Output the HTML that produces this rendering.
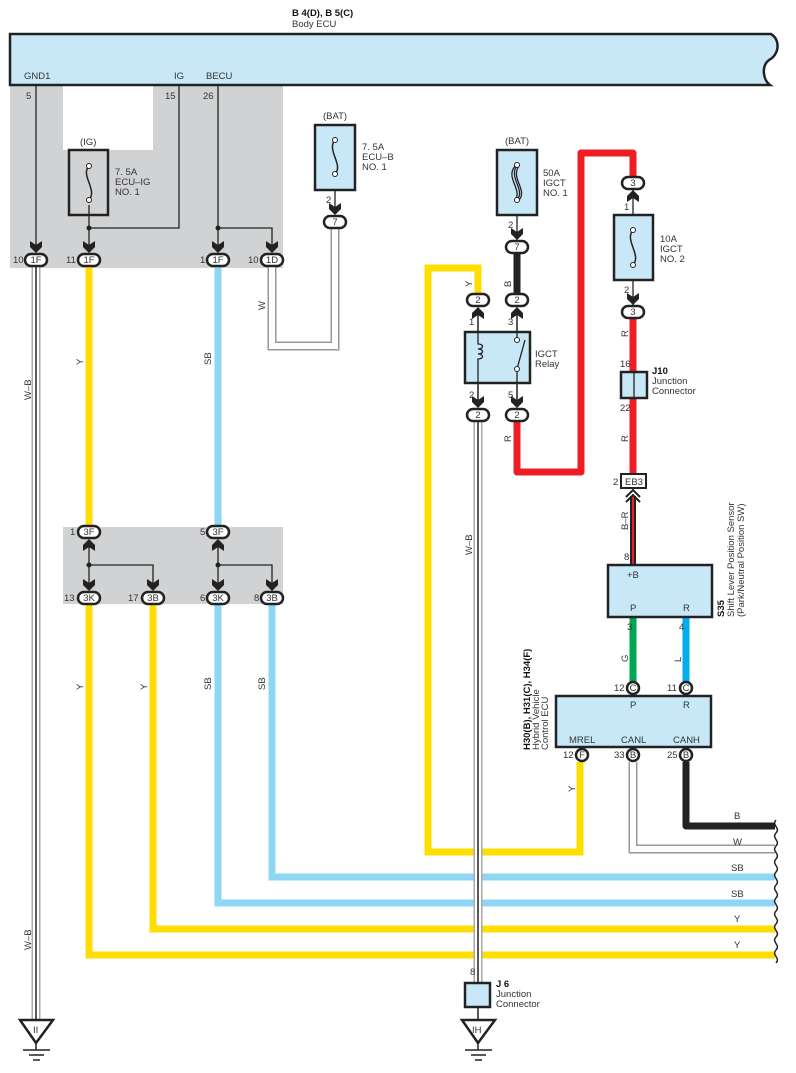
<!DOCTYPE html>
<html><head><meta charset="utf-8"><style>
html,body{margin:0;padding:0;background:#fff;}
svg{display:block;font-family:"Liberation Sans",sans-serif;}
text{font-size:9.5px;fill:#333;}
.b{font-weight:bold;fill:#111;}
</style></head><body>
<svg width="796" height="1073" viewBox="0 0 796 1073" xmlns="http://www.w3.org/2000/svg">
<defs>
<g id="ad"><polygon points="-6,-9 0,-5 6,-9 6,-3 0,3 -6,-3" fill="#222"/></g>
<g id="au"><polygon points="-6,9 0,5 6,9 6,3 0,-3 -6,3" fill="#222"/></g>
</defs>
<!-- gray regions -->
<path d="M10 85 H283 V268 H10 Z" fill="#d1d2d4"/>
<rect x="63" y="85" width="90" height="65" fill="#fff"/>
<rect x="63" y="527" width="220" height="77" fill="#d1d2d4"/>

<!-- Body ECU -->
<text x="292" y="16" class="b">B 4(D), B 5(C)</text>
<text x="292" y="27">Body ECU</text>
<path d="M10 34 H771 C781 40,779 55,769 60 C761 66,763 80,770 85 H10 Z" fill="#c8e8f8" stroke="#222" stroke-width="2.5"/>
<text x="24" y="79">GND1</text><text x="174" y="79">IG</text><text x="206" y="79">BECU</text>
<text x="26" y="99">5</text><text x="165" y="99">15</text><text x="203" y="99">26</text>

<!-- thin internal wires -->
<g stroke="#222" stroke-width="1.3" fill="none">
<path d="M36 85 V250"/>
<path d="M179 85 V228 H89"/>
<path d="M89 205 V250"/>
<path d="M218 85 V250"/><path d="M218 228 H272 V250"/>
<path d="M335 178 V212"/>
<path d="M89 565 V545"/><path d="M89 565 V590"/><path d="M89 565 H153 V590"/>
<path d="M218 565 V545"/><path d="M218 565 V590"/><path d="M218 565 H272 V590"/>
<path d="M478 312 V403"/><path d="M517 312 V403"/>
<path d="M517 215 V240"/>
<path d="M633 190 V305"/>
</g>
<circle cx="89" cy="228" r="2.5" fill="#222"/><circle cx="218" cy="228" r="2.5" fill="#222"/>
<circle cx="89" cy="565" r="2.5" fill="#222"/><circle cx="218" cy="565" r="2.5" fill="#222"/>

<!-- IG fuse -->
<text x="80" y="145">(IG)</text>
<rect x="69" y="150" width="39" height="65" fill="none" stroke="#222" stroke-width="2.5"/>
<path d="M89 166 C80 175,98 190,89 200" fill="none" stroke="#222" stroke-width="1.5"/>
<circle cx="89" cy="166" r="2.5" fill="#fff" stroke="#222"/><circle cx="89" cy="200" r="2.5" fill="#fff" stroke="#222"/>
<text x="115" y="175">7. 5A</text><text x="115" y="185">ECU–IG</text><text x="115" y="195">NO. 1</text>

<!-- ECU-B fuse -->
<text x="323" y="119">(BAT)</text>
<rect x="315" y="125" width="40" height="65" fill="#c8e8f8" stroke="#222" stroke-width="2.5"/>
<path d="M335 140 C326 150,344 165,335 174" fill="none" stroke="#222" stroke-width="1.5"/>
<circle cx="335" cy="140" r="2.5" fill="#fff" stroke="#222"/><circle cx="335" cy="174" r="2.5" fill="#fff" stroke="#222"/>
<text x="362" y="150">7. 5A</text><text x="362" y="160">ECU–B</text><text x="362" y="170">NO. 1</text>
<text x="326" y="203">2</text>

<!-- W wire -->
<path d="M272 266 V346 H335 V228" fill="none" stroke="#999" stroke-width="9"/>
<path d="M272 266 V346 H335 V228" fill="none" stroke="#fff" stroke-width="6"/>
<text transform="translate(265,310) rotate(-90)">W</text>

<!-- W-B left -->
<path d="M36 266 V1022" stroke="#aaa" stroke-width="9" fill="none"/>
<path d="M36 266 V1022" stroke="#fff" stroke-width="6" fill="none"/>
<path d="M36 266 V1022" stroke="#222" stroke-width="1.5" fill="none"/>
<text transform="translate(31,400) rotate(-90)">W–B</text>
<text transform="translate(31,950) rotate(-90)">W–B</text>

<!-- Y/SB verticals -->
<g fill="none" stroke-width="7">
<path d="M89 266 V527" stroke="#ffdd00"/>
<path d="M218 266 V527" stroke="#8fd6f5"/>
<path d="M89 604 V955 H775" stroke="#ffdd00"/>
<path d="M153 604 V929 H775" stroke="#ffdd00"/>
<path d="M218 604 V903 H775" stroke="#8fd6f5"/>
<path d="M272 604 V877 H775" stroke="#8fd6f5"/>
<path d="M478 293 V268 H428 V852 H580 V762" stroke="#ffdd00"/>
<path d="M517 422 V472 H581 V153 H633 V176" stroke="#ee1c25" stroke-linejoin="round"/>
<path d="M633 318 V474" stroke="#ee1c25"/>
<path d="M517 253 V294" stroke="#222"/>
<path d="M633 617 V682" stroke="#00a651"/>
<path d="M686 617 V682" stroke="#00aeef"/>
<path d="M686 762 V826 H775" stroke="#222" stroke-linejoin="round"/>
</g>
<text transform="translate(83,365) rotate(-90)">Y</text>
<text transform="translate(211,365) rotate(-90)">SB</text>
<text transform="translate(83,690) rotate(-90)">Y</text>
<text transform="translate(147,690) rotate(-90)">Y</text>
<text transform="translate(211,690) rotate(-90)">SB</text>
<text transform="translate(265,690) rotate(-90)">SB</text>
<text transform="translate(472,287) rotate(-90)">Y</text>
<text transform="translate(511,287) rotate(-90)">B</text>
<text transform="translate(511,442) rotate(-90)">R</text>
<text transform="translate(628,337) rotate(-90)">R</text>
<text transform="translate(628,442) rotate(-90)">R</text>
<text transform="translate(575,792) rotate(-90)">Y</text>
<text transform="translate(628,662) rotate(-90)">G</text>
<text transform="translate(681,662) rotate(-90)">L</text>

<!-- CANL W wire -->
<path d="M633 762 V849 H775" fill="none" stroke="#999" stroke-width="9"/>
<path d="M633 762 V849 H775" fill="none" stroke="#fff" stroke-width="6"/>

<!-- right labels -->
<text x="734" y="819">B</text><text x="733" y="845">W</text><text x="731" y="871">SB</text>
<text x="731" y="897">SB</text><text x="734" y="922">Y</text><text x="734" y="948">Y</text>
<path d="M776 820 c-5 5,5 8,0 13 c-5 5,5 8,0 13 c-5 5,5 8,0 13 c-5 5,5 8,0 13 c-5 5,5 8,0 13 c-5 5,5 8,0 13 c-5 5,5 8,0 13 c-5 5,5 8,0 13 c-5 5,5 8,0 13 c-5 5,5 8,0 13 c-5 5,5 8,0 13" fill="none" stroke="#222" stroke-width="1.5"/>

<!-- relay W-B wire -->
<path d="M478 422 V985" stroke="#aaa" stroke-width="9" fill="none"/>
<path d="M478 422 V985" stroke="#fff" stroke-width="6" fill="none"/>
<path d="M478 422 V1020" stroke="#222" stroke-width="1.5" fill="none"/>
<text transform="translate(472,555) rotate(-90)">W–B</text>

<!-- 50A fuse -->
<text x="505" y="144">(BAT)</text>
<rect x="497" y="150" width="40" height="65" fill="#c8e8f8" stroke="#222" stroke-width="2.5"/>
<path d="M517 165 C508 178,526 190,517 200 M515 166 C505 178,523 190,515 200 M519 166 C510 178,528 190,519 200" fill="none" stroke="#222" stroke-width="1.3"/>
<circle cx="517" cy="165" r="2.5" fill="#fff" stroke="#222"/><circle cx="517" cy="200" r="2.5" fill="#fff" stroke="#222"/>
<text x="543" y="176">50A</text><text x="543" y="186">IGCT</text><text x="543" y="196">NO. 1</text>
<text x="508" y="228">2</text>

<!-- relay -->
<rect x="465" y="332" width="65" height="51" fill="#c8e8f8" stroke="#222" stroke-width="2.5"/>
<path d="M478 312 V344 c6 0,6 5,0 5 c6 0,6 5,0 5 c6 0,6 5,0 5 V403" fill="none" stroke="#222" stroke-width="1.3"/>
<path d="M517 312 V338 M517 369 L525 340 M517 369 V403" fill="none" stroke="#222" stroke-width="1.3"/>
<rect x="515" y="335" width="0" height="0"/>
<circle cx="517" cy="340" r="2.5" fill="#fff" stroke="#222"/><circle cx="517" cy="369" r="2.5" fill="#fff" stroke="#222"/>
<text x="535" y="357">IGCT</text><text x="535" y="367">Relay</text>
<text x="469" y="325">1</text><text x="508" y="325">3</text><text x="469" y="398">2</text><text x="508" y="398">5</text>

<!-- 10A fuse -->
<rect x="614" y="215" width="39" height="65" fill="#c8e8f8" stroke="#222" stroke-width="2.5"/>
<path d="M633 230 C624 240,642 255,633 265" fill="none" stroke="#222" stroke-width="1.5"/>
<circle cx="633" cy="230" r="2.5" fill="#fff" stroke="#222"/><circle cx="633" cy="265" r="2.5" fill="#fff" stroke="#222"/>
<text x="660" y="242">10A</text><text x="660" y="252">IGCT</text><text x="660" y="262">NO. 2</text>
<text x="624" y="210">1</text><text x="624" y="293">2</text>

<!-- J10 -->
<rect x="621" y="372" width="26" height="26" fill="#c8e8f8" stroke="#222" stroke-width="2.5"/>
<path d="M634 372 V398" stroke="#222" stroke-width="1.3"/>
<text x="620" y="367">16</text><text x="620" y="411">22</text>
<text x="652" y="374" class="b">J10</text><text x="652" y="384">Junction</text><text x="652" y="394">Connector</text>

<!-- EB3 -->
<rect x="621" y="474" width="25" height="14" fill="#fff" stroke="#222" stroke-width="2"/>
<text x="625" y="485">EB3</text><text x="613" y="485">2</text>
<path d="M633 496 V565" stroke="#222" stroke-width="6"/>
<path d="M633 496 V565" stroke="#ee1c25" stroke-width="2"/>
<path d="M626 497 L633 490 L640 497 M626 502 L633 495 L640 502" fill="none" stroke="#222" stroke-width="2"/>
<text transform="translate(628,530) rotate(-90)">B–R</text>
<text x="624" y="560">8</text>

<!-- S35 -->
<rect x="608" y="565" width="104" height="52" fill="#c8e8f8" stroke="#222" stroke-width="2.5"/>
<text x="627" y="578">+B</text><text x="630" y="611">P</text><text x="683" y="611">R</text>
<text x="627" y="630">3</text><text x="679" y="630">4</text>
<text transform="translate(724,617) rotate(-90)" class="b">S35</text>
<text transform="translate(734,617) rotate(-90)">Shift Lever Position Sensor</text>
<text transform="translate(744,617) rotate(-90)">(Park/Neutral Position SW)</text>

<!-- Hybrid ECU -->
<rect x="556" y="696" width="155" height="51" fill="#c8e8f8" stroke="#222" stroke-width="2.5"/>
<text x="630" y="708">P</text><text x="683" y="708">R</text>
<text x="569" y="743">MREL</text><text x="621" y="743">CANL</text><text x="673" y="743">CANH</text>
<text transform="translate(530,750) rotate(-90)" class="b">H30(B), H31(C), H34(F)</text>
<text transform="translate(539,750) rotate(-90)">Hybrid Vehicle</text>
<text transform="translate(548,750) rotate(-90)">Control ECU</text>

<!-- circle connectors -->
<g stroke="#222" stroke-width="2.5" fill="#fff">
<circle cx="633" cy="688" r="6"/><circle cx="686" cy="688" r="6"/>
<circle cx="582" cy="755" r="6"/><circle cx="633" cy="755" r="6"/><circle cx="686" cy="755" r="6"/>
</g>
<g font-size="8" text-anchor="middle">
<text x="633" y="691" font-size="8">C</text><text x="686" y="691" font-size="8">C</text>
<text x="582" y="758" font-size="8">F</text><text x="633" y="758" font-size="8">B</text><text x="686" y="758" font-size="8">B</text>
</g>
<text x="614" y="691">12</text><text x="667" y="691">11</text>
<text x="563" y="758">12</text><text x="614" y="758">33</text><text x="667" y="758">25</text>

<!-- oval connectors -->
<g stroke="#222" stroke-width="2.5" fill="#fff">
<rect x="25" y="254" width="22" height="12" rx="6"/><rect x="78" y="254" width="22" height="12" rx="6"/>
<rect x="207" y="254" width="22" height="12" rx="6"/><rect x="261" y="254" width="22" height="12" rx="6"/>
<rect x="324" y="216" width="22" height="12" rx="6"/>
<rect x="78" y="526" width="22" height="12" rx="6"/><rect x="207" y="526" width="22" height="12" rx="6"/>
<rect x="78" y="592" width="22" height="12" rx="6"/><rect x="142" y="592" width="22" height="12" rx="6"/>
<rect x="207" y="592" width="22" height="12" rx="6"/><rect x="261" y="592" width="22" height="12" rx="6"/>
<rect x="506" y="241" width="22" height="12" rx="6"/>
<rect x="467" y="294" width="22" height="12" rx="6"/><rect x="506" y="294" width="22" height="12" rx="6"/>
<rect x="467" y="409" width="22" height="12" rx="6"/><rect x="506" y="409" width="22" height="12" rx="6"/>
<rect x="622" y="177" width="22" height="12" rx="6"/><rect x="622" y="306" width="22" height="12" rx="6"/>
</g>
<g font-size="8.5" text-anchor="middle">
<text x="36" y="263" font-size="8.5">1F</text><text x="89" y="263" font-size="8.5">1F</text>
<text x="218" y="263" font-size="8.5">1F</text><text x="272" y="263" font-size="8.5">1D</text>
<text x="335" y="225" font-size="8.5">7</text>
<text x="89" y="535" font-size="8.5">3F</text><text x="218" y="535" font-size="8.5">3F</text>
<text x="89" y="601" font-size="8.5">3K</text><text x="153" y="601" font-size="8.5">3B</text>
<text x="218" y="601" font-size="8.5">3K</text><text x="272" y="601" font-size="8.5">3B</text>
<text x="517" y="250" font-size="8.5">7</text>
<text x="478" y="303" font-size="8.5">2</text><text x="517" y="303" font-size="8.5">2</text>
<text x="478" y="418" font-size="8.5">2</text><text x="517" y="418" font-size="8.5">2</text>
<text x="633" y="186" font-size="8.5">3</text><text x="633" y="315" font-size="8.5">3</text>
</g>
<text x="13" y="263">10</text><text x="66" y="263">11</text><text x="200" y="263">1</text><text x="248" y="263">10</text>
<text x="70" y="535">1</text><text x="200" y="535">5</text>
<text x="64" y="601">13</text><text x="128" y="601">17</text><text x="200" y="601">6</text><text x="254" y="601">8</text>

<!-- arrows -->
<use href="#ad" x="36" y="250"/><use href="#ad" x="89" y="250"/><use href="#ad" x="218" y="250"/><use href="#ad" x="272" y="250"/>
<use href="#ad" x="335" y="212"/><use href="#ad" x="517" y="237"/>
<use href="#au" x="89" y="542"/><use href="#au" x="218" y="542"/>
<use href="#ad" x="89" y="588"/><use href="#ad" x="153" y="588"/><use href="#ad" x="218" y="588"/><use href="#ad" x="272" y="588"/>
<use href="#au" x="478" y="310"/><use href="#au" x="517" y="310"/>
<use href="#ad" x="478" y="405"/><use href="#ad" x="517" y="405"/>
<use href="#au" x="633" y="193"/><use href="#ad" x="633" y="302"/>

<!-- J6 -->
<rect x="465" y="983" width="25" height="24" fill="#c8e8f8" stroke="#222" stroke-width="2.5"/>
<text x="470" y="975">8</text>
<text x="496" y="987" class="b">J 6</text><text x="496" y="997">Junction</text><text x="496" y="1007">Connector</text>

<!-- grounds -->
<g fill="#fff" stroke="#222" stroke-width="2.5">
<polygon points="20,1020 53,1020 36,1043"/><polygon points="462,1020 495,1020 478,1043"/>
</g>
<g stroke="#222" stroke-width="1.5">
<path d="M36 1043 V1050 M23 1050 H50 M29 1055 H44 M33 1060 H40"/>
<path d="M478 1043 V1050 M465 1050 H492 M471 1055 H486 M475 1060 H482"/>
</g>
<text x="33" y="1033" font-size="8">II</text><text x="472" y="1033" font-size="8">IH</text>
</svg>
</body></html>
